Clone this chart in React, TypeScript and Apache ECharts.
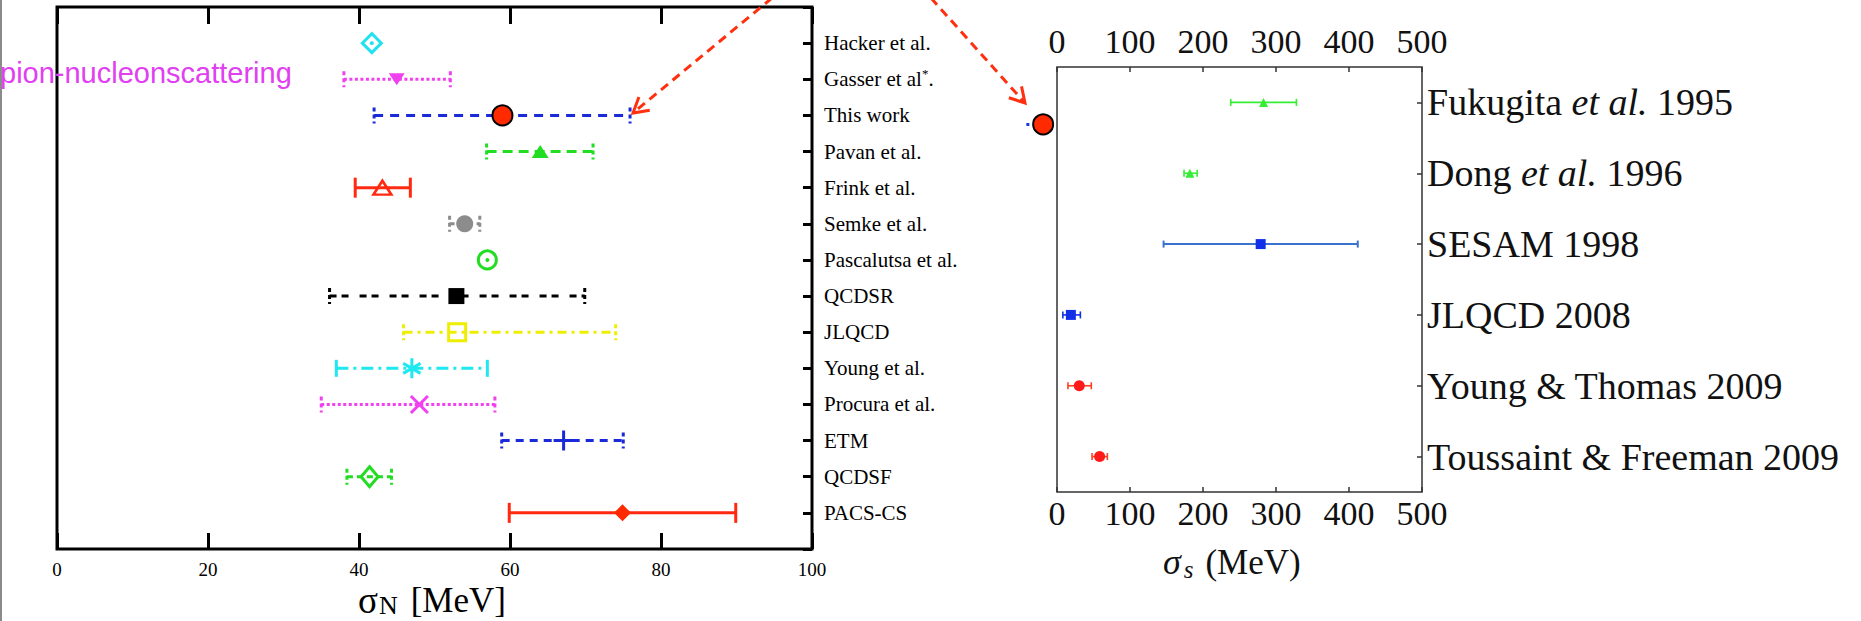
import React, { useEffect, useRef } from "react";
import * as echarts from "echarts";

// ---------------- data ----------------
const leftCategories = [
  "Hacker et al.",
  "Gasser et al*.",
  "This work",
  "Pavan et al.",
  "Frink et al.",
  "Semke et al.",
  "Pascalutsa et al.",
  "QCDSR",
  "JLQCD",
  "Young et al.",
  "Procura et al.",
  "ETM",
  "QCDSF",
  "PACS-CS",
];
const leftCenter = [41.7, 45.0, 59.0, 64.0, 43.1, 54.0, 57.0, 52.9, 53.0, 47.0, 48.0, 67.1, 41.4, 74.9];
const leftLow = [null, 38.0, 42.0, 56.9, 39.5, 52.0, null, 36.1, 45.9, 37.0, 35.0, 58.9, 38.4, 59.9];
const leftHigh = [null, 52.1, 75.9, 71.0, 46.8, 56.0, null, 69.9, 74.0, 57.0, 58.0, 75.0, 44.3, 89.9];
const leftTicks = [0, 20, 40, 60, 80, 100];

const rightCategories = [
  "Fukugita et al. 1995",
  "Dong et al. 1996",
  "SESAM 1998",
  "JLQCD 2008",
  "Young & Thomas 2009",
  "Toussaint & Freeman 2009",
];
const rightCenter = [283, 182, 279, 19, 30.5, 58.4];
const rightLow = [238, 174, 146, 8, 15, 48];
const rightHigh = [328, 192, 412, 32, 47, 69];
const rightTicks = [0, 100, 200, 300, 400, 500];

// "This work" point drawn beside the sigma_s panel
const insetCenter = -19;
const insetLow = -42;
const insetHigh = 4.5;
const insetRow = 0.81;

// ---------------- styles ----------------
const SERIF = "'Liberation Serif', 'Times New Roman', serif";
const SANS = "'Liberation Sans', Arial, sans-serif";

const ASTERISK = "path://M10,0 L10,20 M1.34,5 L18.66,15 M1.34,15 L18.66,5";
const CROSS = "path://M0,0 L20,20 M0,20 L20,0";
const PLUS = "path://M10,0 L10,20 M0,10 L20,10";
const CLEAR = "rgba(0,0,0,0)";

const leftMarkers: any[] = [
  { symbol: "diamond", size: 19, color: "#fff", border: "#22e2f0", bw: 3, dot: "#22e2f0" },
  { symbol: "triangle", size: [16, 12], rotate: 180, color: "#f040f0" },
  { symbol: "circle", size: 20, color: "#ff2a00", border: "#000", bw: 2 },
  { symbol: "triangle", size: [17, 13], color: "#22dd22" },
  { symbol: "triangle", size: [18, 14], color: CLEAR, border: "#ff2a10", bw: 2.5 },
  { symbol: "circle", size: 17, color: "#8c8c8c" },
  { symbol: "circle", size: 18, color: "#fff", border: "#22dd22", bw: 3, dot: "#22dd22" },
  { symbol: "rect", size: 16, color: "#000" },
  { symbol: "rect", size: 17, color: CLEAR, border: "#eeee00", bw: 3 },
  { symbol: ASTERISK, size: 20, color: CLEAR, border: "#1ee8f0", bw: 3 },
  { symbol: CROSS, size: 17, color: CLEAR, border: "#f040f0", bw: 3 },
  { symbol: PLUS, size: 20, color: CLEAR, border: "#1a2ad8", bw: 3 },
  { symbol: "diamond", size: [17, 20], color: CLEAR, border: "#22dd22", bw: 3 },
  { symbol: "diamond", size: 17, color: "#ff2a00" },
];

const leftBarStyles: any[] = [
  null,
  { color: "#f040f0", width: 3, dash: [3, 2.5], cap: 16 },
  { color: "#1a2ad8", width: 3, dash: [9, 7], cap: 16 },
  { color: "#22dd22", width: 3, dash: [10, 6], cap: 16 },
  { color: "#ff2a10", width: 3, dash: null, cap: 20 },
  { color: "#8c8c8c", width: 3, dash: [5, 4], cap: 16 },
  null,
  { color: "#000", width: 3, dash: [7, 5, 7, 11], cap: 16 },
  { color: "#eeee00", width: 3, dash: [9, 5, 3, 5], cap: 16 },
  { color: "#1ee8f0", width: 3, dash: [12, 5, 3, 5], cap: 17, solidCap: true },
  { color: "#f040f0", width: 3, dash: [3, 2.5], cap: 16 },
  { color: "#1a2ad8", width: 3, dash: [8, 6], cap: 16 },
  { color: "#22dd22", width: 3, dash: [6, 4], cap: 16 },
  { color: "#ff2a10", width: 3, dash: null, cap: 20 },
];

const rightMarkers: any[] = [
  { symbol: "triangle", size: 9, color: "#33ee33" },
  { symbol: "triangle", size: 9, color: "#33ee33" },
  { symbol: "rect", size: 10, color: "#1030e8" },
  { symbol: "rect", size: 10, color: "#1030e8" },
  { symbol: "circle", size: 11, color: "#ff1a1a" },
  { symbol: "circle", size: 11, color: "#ff1a1a" },
];
const rightBarStyles: any[] = [
  { color: "#33ee33", width: 1.6, dash: null, cap: 7 },
  { color: "#33ee33", width: 1.6, dash: null, cap: 7 },
  { color: "#3a72d0", width: 2, dash: null, cap: 7 },
  { color: "#1030e8", width: 1.6, dash: null, cap: 7 },
  { color: "#ff4020", width: 1.6, dash: null, cap: 7 },
  { color: "#ff4020", width: 1.6, dash: null, cap: 7 },
];

function errorBars(xAxisIndex: number, yAxisIndex: number, data: number[][], styles: any[]) {
  return {
    type: "custom",
    xAxisIndex,
    yAxisIndex,
    clip: false,
    silent: true,
    z: 2,
    data,
    renderItem: (params: any, api: any) => {
      const lo = api.value(0);
      const hi = api.value(1);
      const y = api.value(2);
      const s = styles[api.value(3)];
      const p1 = api.coord([lo, y]);
      const p2 = api.coord([hi, y]);
      const st = { stroke: s.color, lineWidth: s.width, lineDash: s.dash || null, fill: null };
      const cst = { stroke: s.color, lineWidth: s.width, lineDash: s.solidCap ? null : s.dash ? [4, 3] : null, fill: null };
      const h = s.cap / 2;
      const children: any[] = [
        { type: "line", shape: { x1: p1[0], y1: p1[1], x2: p2[0], y2: p2[1] }, style: st },
      ];
      if (s.cap) {
        children.push({ type: "line", shape: { x1: p1[0], y1: p1[1] - h, x2: p1[0], y2: p1[1] + h }, style: cst });
        children.push({ type: "line", shape: { x1: p2[0], y1: p2[1] - h, x2: p2[0], y2: p2[1] + h }, style: cst });
      }
      return { type: "group", children };
    },
  };
}

function markerSeries(xAxisIndex: number, yAxisIndex: number, x: number, y: number, m: any, z = 5) {
  return {
    type: "scatter",
    xAxisIndex,
    yAxisIndex,
    clip: false,
    silent: true,
    z,
    symbol: m.symbol,
    symbolSize: m.size,
    symbolRotate: m.rotate || 0,
    symbolKeepAspect: true,
    itemStyle: { color: m.color, borderColor: m.border || m.color, borderWidth: m.bw || 0, opacity: 1 },
    data: [[x, y]],
  };
}

function arrow(x1: number, y1: number, x2: number, y2: number, color: string) {
  const dx = x2 - x1;
  const dy = y2 - y1;
  const len = Math.sqrt(dx * dx + dy * dy);
  const bx = -dx / len;
  const by = -dy / len;
  const L = 17;
  const a = Math.PI / 6;
  const r1 = [x2 + L * (Math.cos(a) * bx - Math.sin(a) * by), y2 + L * (Math.sin(a) * bx + Math.cos(a) * by)];
  const r2 = [x2 + L * (Math.cos(-a) * bx - Math.sin(-a) * by), y2 + L * (Math.sin(-a) * bx + Math.cos(-a) * by)];
  return [
    { type: "line", shape: { x1, y1, x2, y2 }, style: { stroke: color, lineWidth: 3, lineDash: [9, 6] }, z: 20 },
    { type: "polyline", shape: { points: [r1, [x2, y2], r2] }, style: { stroke: color, lineWidth: 3, fill: null }, z: 20 },
  ];
}

const leftRich = (s: string) => {
  const i = s.indexOf("*");
  if (i < 0) return `{n|${s}}`;
  return `{n|${s.slice(0, i)}}{sup|*}{n|${s.slice(i + 1)}}`;
};
const rightRich = (s: string) => {
  const i = s.indexOf("et al.");
  if (i < 0) return `{n|${s}}`;
  return `{n|${s.slice(0, i)}}{i|et al.}{n|${s.slice(i + 6)}}`;
};

export default function App() {
  const ref = useRef<HTMLDivElement>(null);
  useEffect(() => {
    if (!ref.current) return;
    const chart = echarts.init(ref.current, null, { renderer: "svg" });

    const leftBarData: number[][] = [];
    leftCategories.forEach((_, i) => {
      if (leftLow[i] != null && leftHigh[i] != null) leftBarData.push([leftLow[i] as number, leftHigh[i] as number, i + 1, i]);
    });
    const rightBarData = rightCategories.map((_, i) => [rightLow[i], rightHigh[i], i + 0.5, i]);

    const series: any[] = [];
    series.push(errorBars(0, 0, leftBarData, leftBarStyles));
    leftCategories.forEach((_, i) => {
      const m = leftMarkers[i];
      series.push(markerSeries(0, 0, leftCenter[i], i + 1, m));
      if (m.dot) series.push(markerSeries(0, 0, leftCenter[i], i + 1, { symbol: "circle", size: 4, color: m.dot }, 6));
    });
    series.push(errorBars(2, 1, rightBarData, rightBarStyles));
    rightCategories.forEach((_, i) => {
      series.push(markerSeries(2, 1, rightCenter[i], i + 0.5, rightMarkers[i]));
    });
    series.push(
      errorBars(2, 1, [[insetLow, insetHigh, insetRow, 0]], [{ color: "#1a3ae0", width: 3, dash: [3, 9], cap: 0 }])
    );
    series.push(
      markerSeries(2, 1, insetCenter, insetRow, { symbol: "circle", size: 20, color: "#ff2a00", border: "#000", bw: 2 }, 8)
    );

    const leftTickStyle = { color: "#000", width: 3 };
    const rightTickStyle = { color: "#333", width: 1.5 };
    const noLine = { show: false, onZero: false };

    const option: any = {
      animation: false,
      backgroundColor: "#fff",
      grid: [
        { left: 57, top: 7, width: 755, height: 542, show: true, borderColor: "#000", borderWidth: 3, backgroundColor: "transparent" },
        { left: 1057, top: 67, width: 365, height: 425, show: true, borderColor: "#333", borderWidth: 1.5, backgroundColor: "transparent" },
      ],
      xAxis: [
        {
          gridIndex: 0, type: "value", position: "bottom", min: leftTicks[0], max: leftTicks[leftTicks.length - 1], interval: 20,
          axisLine: noLine, splitLine: { show: false },
          axisTick: { inside: true, length: 16, lineStyle: leftTickStyle },
          axisLabel: { margin: 11, fontSize: 19, fontFamily: SERIF, color: "#000" },
        },
        {
          gridIndex: 0, type: "value", position: "top", min: leftTicks[0], max: leftTicks[leftTicks.length - 1], interval: 20,
          axisLine: noLine, splitLine: { show: false },
          axisTick: { inside: true, length: 17, lineStyle: leftTickStyle },
          axisLabel: { show: false },
        },
        {
          gridIndex: 1, type: "value", position: "bottom", min: rightTicks[0], max: rightTicks[rightTicks.length - 1], interval: 100,
          axisLine: noLine, splitLine: { show: false },
          axisTick: { inside: true, length: 5, lineStyle: rightTickStyle },
          axisLabel: { margin: 4, fontSize: 34, fontFamily: SERIF, color: "#111" },
        },
        {
          gridIndex: 1, type: "value", position: "top", min: rightTicks[0], max: rightTicks[rightTicks.length - 1], interval: 100,
          axisLine: noLine, splitLine: { show: false },
          axisTick: { inside: true, length: 5, lineStyle: rightTickStyle },
          axisLabel: { margin: 9, fontSize: 34, fontFamily: SERIF, color: "#111" },
        },
      ],
      yAxis: [
        {
          gridIndex: 0, type: "value", position: "right", min: 0, max: leftCategories.length + 1, interval: 1, inverse: true,
          axisLine: noLine, splitLine: { show: false },
          axisTick: { show: true, inside: true, length: 9, lineStyle: leftTickStyle },
          axisLabel: {
            margin: 12,
            formatter: (v: number) => {
              const s = leftCategories[Math.round(v) - 1];
              return s ? leftRich(s) : "";
            },
            rich: {
              n: { fontSize: 21, fontFamily: SERIF, color: "#000", lineHeight: 24 },
              sup: { fontSize: 13, fontFamily: SERIF, color: "#000", lineHeight: 13, verticalAlign: "top" },
            },
          },
        },
        {
          gridIndex: 1, type: "value", min: 0, max: rightCategories.length, inverse: true, show: false,
          axisLine: noLine,
        },
        {
          gridIndex: 1, type: "category", position: "right", inverse: true, data: rightCategories, boundaryGap: true,
          axisLine: noLine, splitLine: { show: false },
          axisTick: { show: true, inside: true, alignWithLabel: true, length: 5, lineStyle: rightTickStyle },
          axisLabel: {
            margin: 5,
            formatter: (v: string) => rightRich(v),
            rich: {
              n: { fontSize: 38, fontFamily: SERIF, color: "#111" },
              i: { fontSize: 38, fontFamily: SERIF, fontStyle: "italic", color: "#111" },
            },
          },
        },
      ],
      graphic: [
        { type: "rect", shape: { x: 0, y: 0, width: 2, height: 621 }, style: { fill: "#8a8a8a" }, z: 30 },
        {
          type: "text", x: 0, y: 73, z: 25,
          style: { text: "pion-nucleonscattering", fontSize: 29, fontFamily: SANS, fill: "#e040f0", verticalAlign: "middle", textAlign: "left" },
        },
        {
          type: "text", x: 358, y: 600,
          style: {
            text: "{a|σ}{b|N}{c|[MeV]}", verticalAlign: "middle", textAlign: "left",
            rich: {
              a: { fontSize: 37, fontFamily: SERIF, fill: "#000", lineHeight: 36 },
              b: { fontSize: 26, fontFamily: SERIF, fill: "#000", lineHeight: 16, verticalAlign: "bottom", padding: [0, 0, 0, 1] },
              c: { fontSize: 35, fontFamily: SERIF, fill: "#000", lineHeight: 36, padding: [0, 0, 0, 13] },
            },
          },
        },
        {
          type: "text", x: 1163, y: 562,
          style: {
            text: "{a|σ}{b|s}{c|(MeV)}", verticalAlign: "middle", textAlign: "left",
            rich: {
              a: { fontSize: 36, fontStyle: "italic", fontFamily: SERIF, fill: "#111", lineHeight: 40 },
              b: { fontSize: 25, fontStyle: "italic", fontFamily: SERIF, fill: "#111", lineHeight: 20, verticalAlign: "bottom", padding: [0, 0, 0, 3] },
              c: { fontSize: 35, fontFamily: SERIF, fill: "#111", lineHeight: 40, padding: [0, 0, 0, 12] },
            },
          },
        },
        ...arrow(772, -2, 633, 113, "#ff3010"),
        ...arrow(931, -2, 1025, 103, "#ff3010"),
      ],
      series,
    };
    chart.setOption(option);
    return () => chart.dispose();
  }, []);
  return <div ref={ref} style={{ position: "absolute", left: 0, top: 0, width: 1861, height: 621 }} />;
}
